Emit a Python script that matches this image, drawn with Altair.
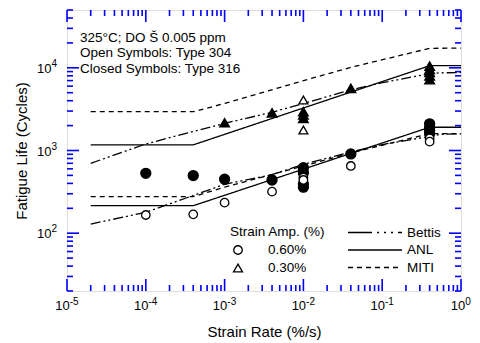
import altair as alt
import pandas as pd

FONT = "Liberation Sans"
BLUE = "#0000FF"
W, H = 394, 281

# ---------------- data ----------------
# closed circles: Type 316, 0.60 %
c316_rate = [1e-4, 4e-4, 1e-3, 4e-3, 1e-2, 1e-2, 1e-2, 1e-2, 4e-2, 0.4, 0.4, 0.4, 0.4]
c316_life = [530, 497, 449, 440, 620, 540, 390, 360, 908, 2100, 1900, 1750, 1600]
# open circles: Type 304, 0.60 %
c304_rate = [1e-4, 4e-4, 1e-3, 4e-3, 1e-2, 1e-2, 4e-2, 0.4, 0.4]
c304_life = [166, 169, 234, 318, 470, 440, 650, 1400, 1280]
# closed triangles: Type 316, 0.30 %
t316_rate = [1e-3, 4e-3, 1e-2, 1e-2, 1e-2, 4e-2, 0.4, 0.4, 0.4, 0.4, 0.4]
t316_life = [2170, 2860, 2950, 2700, 2450, 5650, 10500, 9600, 8800, 8000, 7200]
# open triangles: Type 304, 0.30 %
t304_rate = [1e-2, 1e-2]
t304_life = [4080, 1770]

# model curves
anl_rate = [2e-5, 4e-4, 0.4, 1.0]
anl_060 = [215, 215, 1910, 1910]
anl_030 = [1170, 1170, 10600, 10600]

miti_rate = [2e-5, 4e-4, 1e-3, 1e-2, 4.3e-2, 0.4, 1.0]
miti_060 = [277, 277, 360, 650, 950, 1600, 1600]
miti_030 = [2950, 2950, 3700, 7000, 10300, 17200, 17300]

bettis_rate = [2e-5, 1e-4, 1e-3, 4e-3, 1e-2, 4e-2, 0.1, 0.4, 0.55, 1.0]
bettis_060 = [129, 179, 390, 510, 680, 960, 1180, 1480, 1570, 1590]
bettis_030 = [700, 1200, 2130, 2900, 3700, 5400, 6600, 8500, 8700, 8750]

# axes
x_major = [1e-5, 1e-4, 1e-3, 1e-2, 1e-1, 1.0]
x_exp = ["-5", "-4", "-3", "-2", "-1", "0"]
x_minor = [m * 10.0 ** e for e in range(-5, 0) for m in range(2, 10)]
y_major = [1e2, 1e3, 1e4]
y_exp = ["2", "3", "4"]
y_minor = [m * 10.0 ** e for e in range(1, 5) for m in range(2, 10) if 20 <= m * 10.0 ** e <= 50000]

info_lines = ["325°C; DO Š 0.005 ppm", "Open Symbols: Type 304", "Closed Symbols: Type 316"]
amp_title = "Strain Amp. (%)"
amp_labels = ["0.60%", "0.30%"]
model_labels = ["Bettis", "ANL", "MITI"]

# ---------------- scales / axes ----------------
xs = alt.Scale(type="log", domain=[1e-5, 1.0], nice=False)
ys = alt.Scale(type="log", domain=[20, 50000], nice=False)
xax = alt.Axis(labels=False, ticks=False, domain=False, grid=False, title="Strain Rate (%/s)",
               titlePadding=33, titleFont=FONT, titleFontSize=15, titleFontWeight="normal", titleColor="black")
yax = alt.Axis(labels=False, ticks=False, domain=False, grid=False, title="Fatigue Life (Cycles)",
               titlePadding=38, titleFont=FONT, titleFontSize=15, titleFontWeight="normal", titleColor="black")


def X(field="x"):
    return alt.X(f"{field}:Q", scale=xs, axis=xax)


def Y(field="y"):
    return alt.Y(f"{field}:Q", scale=ys, axis=yax)


layers = []

# model curves
curve_df = pd.concat([
    pd.DataFrame({"x": anl_rate, "y": anl_060, "model": "ANL", "amp": "0.6", "o": range(len(anl_rate))}),
    pd.DataFrame({"x": anl_rate, "y": anl_030, "model": "ANL", "amp": "0.3", "o": range(len(anl_rate))}),
    pd.DataFrame({"x": miti_rate, "y": miti_060, "model": "MITI", "amp": "0.6", "o": range(len(miti_rate))}),
    pd.DataFrame({"x": miti_rate, "y": miti_030, "model": "MITI", "amp": "0.3", "o": range(len(miti_rate))}),
    pd.DataFrame({"x": bettis_rate, "y": bettis_060, "model": "Bettis", "amp": "0.6", "o": range(len(bettis_rate))}),
    pd.DataFrame({"x": bettis_rate, "y": bettis_030, "model": "Bettis", "amp": "0.3", "o": range(len(bettis_rate))}),
])
dash = {"ANL": [1, 0], "MITI": [5, 4], "Bettis": [10, 3, 2, 3, 2, 3]}
for m in ["MITI", "ANL", "Bettis"]:
    layers.append(
        alt.Chart(curve_df[curve_df.model == m]).mark_line(color="black", strokeWidth=1.3, strokeDash=dash[m])
        .encode(x=X(), y=Y(), detail="amp:N", order="o:Q")
    )


def pts(rate, life, shape, filled, size):
    df = pd.DataFrame({"x": rate, "y": life})
    return alt.Chart(df).mark_point(
        shape=shape, filled=True, size=size, opacity=1,
        fill="black" if filled else "white", stroke="black", strokeWidth=1.3
    ).encode(x=X(), y=Y())


layers += [
    pts(c316_rate, c316_life, "circle", True, 100),
    pts(t316_rate, t316_life, "triangle-up", True, 95),
    pts(c304_rate, c304_life, "circle", False, 72),
    pts(t304_rate, t304_life, "triangle-up", False, 80),
]

# inward ticks on all four sides
tick_color = BLUE


def xticks(vals, length):
    df = pd.DataFrame({"x": vals})
    b = alt.Chart(df).mark_rule(color=tick_color, strokeWidth=1.6).encode(
        x=X(), y=alt.value(H), y2=alt.value(H - length))
    t = alt.Chart(df).mark_rule(color=tick_color, strokeWidth=1.6).encode(
        x=X(), y=alt.value(0), y2=alt.value(length))
    return [b, t]


def yticks(vals, length):
    df = pd.DataFrame({"y": vals})
    l = alt.Chart(df).mark_rule(color=tick_color, strokeWidth=1.6).encode(
        y=Y(), x=alt.value(0), x2=alt.value(length))
    r = alt.Chart(df).mark_rule(color=tick_color, strokeWidth=1.6).encode(
        y=Y(), x=alt.value(W), x2=alt.value(W - length))
    return [l, r]


layers += xticks(x_major, 12) + xticks(x_minor, 6) + yticks(y_major, 12) + yticks(y_minor, 6)

# tick labels with superscript exponents
xl = pd.DataFrame({"x": x_major, "e": x_exp, "b": ["10"] * len(x_major)})
for sel, d in [(xl.x < 1, 2.7), (xl.x >= 1, 4.2)]:
    sub = xl[sel]
    layers.append(alt.Chart(sub).mark_text(font=FONT, fontSize=13, align="right", baseline="middle", dx=d)
                  .encode(x=X(), y=alt.value(H + 14.5), text="b:N"))
    layers.append(alt.Chart(sub).mark_text(font=FONT, fontSize=10, align="left", baseline="middle", dx=d)
                  .encode(x=X(), y=alt.value(H + 10.5), text="e:N"))

yl = pd.DataFrame({"y": y_major, "e": y_exp, "b": ["10"] * len(y_major)})
layers.append(alt.Chart(yl).mark_text(font=FONT, fontSize=13, align="right", baseline="middle", dy=1)
              .encode(y=Y(), x=alt.value(-15.5), text="b:N"))
layers.append(alt.Chart(yl).mark_text(font=FONT, fontSize=10, align="left", baseline="middle", dy=-4)
              .encode(y=Y(), x=alt.value(-15.5), text="e:N"))

# info text
for i, s in enumerate(info_lines):
    layers.append(alt.Chart(pd.DataFrame({"t": [s]})).mark_text(
        font=FONT, fontSize=13.5, align="left", baseline="middle")
        .encode(x=alt.value(13), y=alt.value(27.5 + 15.5 * i), text="t:N"))

# symbol legend
layers.append(alt.Chart(pd.DataFrame({"t": [amp_title]})).mark_text(
    font=FONT, fontSize=13.5, align="left", baseline="middle")
    .encode(x=alt.value(163), y=alt.value(222), text="t:N"))
for i, (lab, shp, sz) in enumerate(zip(amp_labels, ["circle", "triangle-up"], [72, 80])):
    layers.append(alt.Chart(pd.DataFrame({"t": [lab]})).mark_point(
        shape=shp, size=sz, filled=True, fill="white", stroke="black", strokeWidth=1.3, opacity=1)
        .encode(x=alt.value(171), y=alt.value(240 + 18 * i)))
    layers.append(alt.Chart(pd.DataFrame({"t": [lab]})).mark_text(
        font=FONT, fontSize=13.5, align="left", baseline="middle")
        .encode(x=alt.value(201), y=alt.value(240 + 18 * i), text="t:N"))

# line legend
leg_dash = {"Bettis": [24, 5, 2, 5, 2, 5, 2, 5], "ANL": [1, 0], "MITI": [5, 4]}
for i, lab in enumerate(model_labels):
    yy = 222.5 + 17.5 * i
    layers.append(alt.Chart(pd.DataFrame({"t": [lab]})).mark_rule(
        color="black", strokeWidth=1.3, strokeDash=leg_dash[lab])
        .encode(x=alt.value(281), x2=alt.value(335), y=alt.value(yy)))
    layers.append(alt.Chart(pd.DataFrame({"t": [lab]})).mark_text(
        font=FONT, fontSize=13.5, align="left", baseline="middle")
        .encode(x=alt.value(340), y=alt.value(yy), text="t:N"))

chart = alt.layer(*layers).properties(
    width=W, height=H,
    autosize=alt.AutoSizeParams(type="none"),
    padding={"left": 67, "top": 10, "right": 19, "bottom": 52},
).configure_view(stroke=BLUE, strokeWidth=2).configure(background="white")

chart.save("out.html", embed_options={"renderer": "svg", "actions": False})
